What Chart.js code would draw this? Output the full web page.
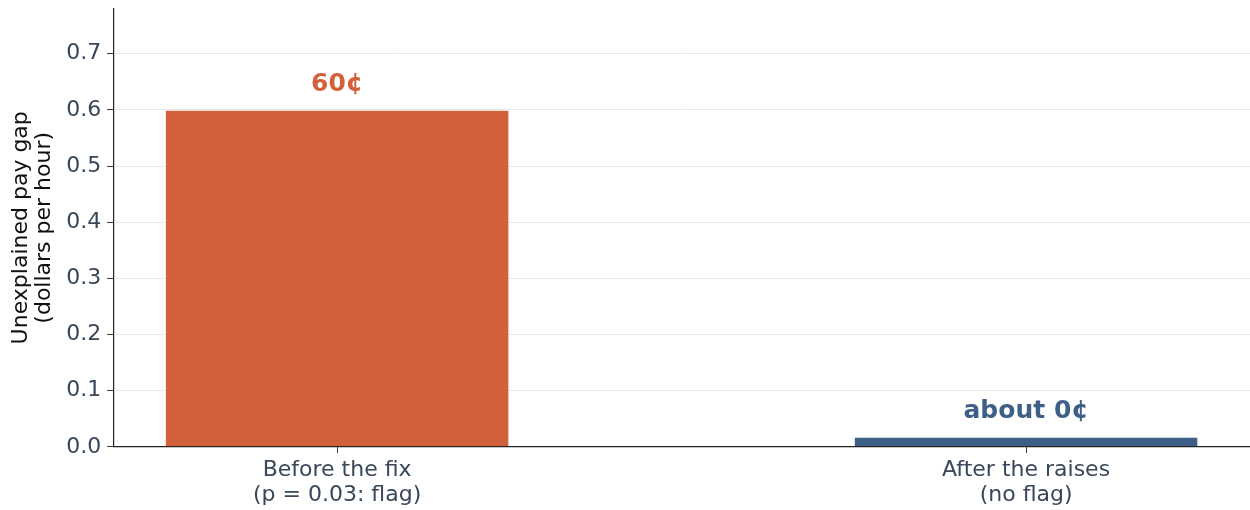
<!DOCTYPE html>
<html lang="en">
<head>
  <meta charset="UTF-8">
  <title>Unexplained pay gap</title>
  <script src="https://cdn.jsdelivr.net/npm/chart.js"></script>
  <style>
    body {
      margin: 0;
      background: #ffffff;
      font-family: 'DejaVu Sans', sans-serif;
    }
    .chart-box {
      width: 1250px;
      height: 510px;
    }
  </style>
</head>
<body>
  <div class="chart-box">
    <canvas id="gapChart"></canvas>
  </div>

  <script>
    const categories = [
      ['Before the fix', '(p = 0.03: flag)'],
      ['After the raises', '(no flag)']
    ];
    const gapValues = [0.6, 0.018];
    const barLabels = ['60¢', 'about 0¢'];
    const barColors = ['#d2613b', '#3e5f87'];
    const yTicks = [0, 0.1, 0.2, 0.3, 0.4, 0.5, 0.6, 0.7];

    const tickColor = '#38475a';

    // writes the cents label above each bar
    const barText = {
      id: 'barText',
      afterDatasetsDraw(chart) {
        const ctx = chart.ctx;
        const meta = chart.getDatasetMeta(0);
        ctx.save();
        ctx.font = 'bold 25px "DejaVu Sans"';
        ctx.textAlign = 'center';
        ctx.textBaseline = 'middle';
        meta.data.forEach((bar, i) => {
          ctx.fillStyle = barColors[i];
          ctx.fillText(barLabels[i], bar.x, bar.y - 25);
        });
        ctx.restore();
      }
    };

    const ctx = document.getElementById('gapChart').getContext('2d');
    new Chart(ctx, {
      type: 'bar',
      data: {
        datasets: [{
          data: gapValues.map((v, i) => ({ x: i, y: v })),
          backgroundColor: barColors,
          borderColor: '#ffffff',
          borderWidth: 1,
          categoryPercentage: 1,
          barPercentage: 0.5
        }]
      },
      options: {
        responsive: true,
        maintainAspectRatio: false,
        animation: false,
        layout: { padding: { top: 8, right: 0, left: 2, bottom: 0 } },
        plugins: {
          legend: { display: false },
          tooltip: { enabled: false }
        },
        scales: {
          x: {
            type: 'linear',
            min: -0.325,
            max: 1.325,
            offset: false,
            afterBuildTicks: (axis) => {
              axis.ticks = categories.map((c, i) => ({ value: i }));
            },
            // labels sit a bit lower, close to the page edge
            afterFit: (axis) => {
              axis.height = axis.height - 3;
            },
            ticks: {
              color: tickColor,
              font: { family: 'DejaVu Sans', size: 22, lineHeight: 1.14 },
              padding: 5,
              maxRotation: 0,
              autoSkip: false,
              callback: (v) => categories[v]
            },
            grid: {
              offset: false,
              color: 'rgba(0,0,0,0)',
              tickColor: '#333333',
              tickLength: 6
            },
            border: { display: true, color: '#222222', width: 1.2 }
          },
          y: {
            min: 0,
            max: 0.78,
            afterBuildTicks: (axis) => {
              axis.ticks = yTicks.map(v => ({ value: v }));
            },
            ticks: {
              color: tickColor,
              font: { family: 'DejaVu Sans', size: 22, lineHeight: 0.25 },
              padding: 6,
              callback: (v) => v.toFixed(1)
            },
            grid: {
              color: '#e8e8e8',
              tickColor: '#333333',
              tickLength: 6
            },
            border: { display: true, color: '#222222', width: 1.2 },
            title: {
              display: true,
              text: ['Unexplained pay gap', '(dollars per hour)'],
              color: '#111111',
              font: { family: 'DejaVu Sans', size: 22, lineHeight: 1.05 },
              padding: { top: 8, bottom: 4 }
            }
          }
        }
      },
      plugins: [barText]
    });
  </script>
</body>
</html>
